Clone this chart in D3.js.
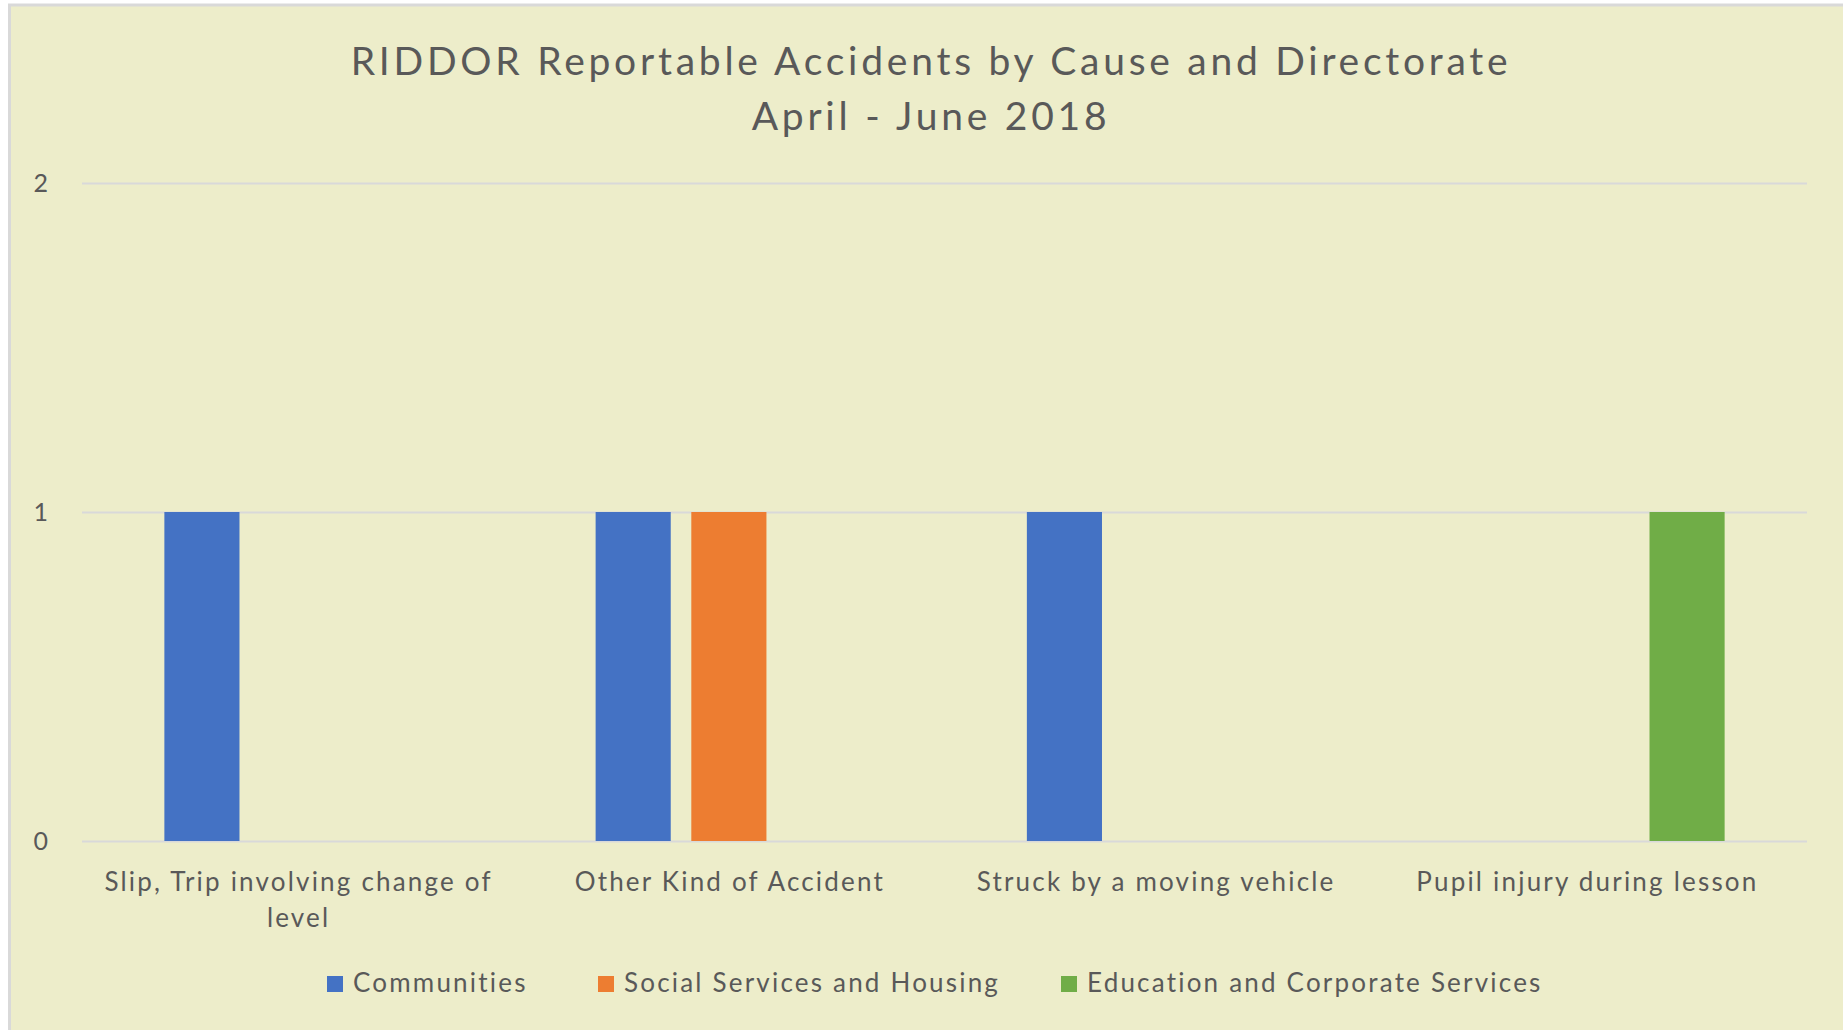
<!DOCTYPE html>
<html>
<head>
<meta charset="utf-8">
<script src="https://cdn.jsdelivr.net/npm/d3@7"></script>
<style>
  html, body { margin: 0; padding: 0; background: #ffffff; }
  svg { display: block; }
  text { font-family: Lato, "Open Sans", sans-serif; fill: #595959; }
</style>
</head>
<body>
<svg id="chart" width="1843" height="1030"></svg>
<script>
const titleLines = ["RIDDOR Reportable Accidents by Cause and Directorate", "April - June 2018"];
const categories = [
  ["Slip, Trip involving change of", "level"],
  ["Other Kind of Accident"],
  ["Struck by a moving vehicle"],
  ["Pupil injury during lesson"]
];
const seriesNames = ["Communities", "Social Services and Housing", "Education and Corporate Services"];
const communities = [1, 1, 1, 0];
const socialServices = [0, 1, 0, 0];
const education = [0, 0, 0, 1];
const yTicks = [0, 1, 2];
const colors = ["#4472C4", "#ED7D31", "#70AD47"];

const seriesValues = [communities, socialServices, education];
const catKeys = categories.map(c => c.join(" "));

const svg = d3.select("#chart");
const W = 1843, H = 1030;

// chart area with border
svg.append("rect").attr("x", 9.5).attr("y", 5).attr("width", W).attr("height", H)
  .attr("fill", "#EDEDCA").attr("stroke", "#D9D9D9").attr("stroke-width", 3);

const plot = { left: 82, right: 1807, top: 183, bottom: 841 };

const x0 = d3.scaleBand().domain(catKeys).range([plot.left, plot.right]).paddingInner(0).paddingOuter(0);
const groupW = x0.bandwidth();
const outer = groupW * 0.191;
const x1 = d3.scaleBand().domain(seriesNames).range([outer, groupW - outer]).paddingInner(0.215).paddingOuter(0);
const y = d3.scaleLinear().domain([0, 2]).range([plot.bottom, plot.top]);

// gridlines
const yAxis = d3.axisLeft(y).tickValues(yTicks).tickFormat(d3.format("d"))
  .tickSize(-(plot.right - plot.left)).tickPadding(34);
const ga = svg.append("g").attr("transform", `translate(${plot.left},0)`).call(yAxis);
ga.select(".domain").remove();
ga.selectAll(".tick line").attr("stroke", "#D9D9D9").attr("stroke-width", 2);
ga.selectAll(".tick text").attr("font-size", 25).attr("fill", "#595959")
  .style("font-family", "Lato, 'Open Sans', sans-serif").attr("dy", "0.35em");

// bars
const flat = [];
catKeys.forEach((c, i) => {
  seriesNames.forEach((s, j) => flat.push({ cat: c, series: s, value: seriesValues[j][i], color: colors[j] }));
});
svg.append("g").selectAll("rect").data(flat).join("rect")
  .attr("x", d => x0(d.cat) + x1(d.series))
  .attr("y", d => y(d.value))
  .attr("width", x1.bandwidth())
  .attr("height", d => y(0) - y(d.value))
  .attr("fill", d => d.color);

// x-axis category labels
const xl = svg.append("g");
categories.forEach((lines, i) => {
  const cx = x0(catKeys[i]) + groupW / 2 + 1 - (i >= 2 ? 5 : 0);
  const t = xl.append("text").attr("x", cx).attr("y", 891)
    .attr("text-anchor", "middle").attr("font-size", 26).attr("letter-spacing", 2.2);
  lines.forEach((ln, k) => t.append("tspan").attr("x", cx).attr("dy", k === 0 ? 0 : 36).text(ln));
});

// title
const tt = svg.append("text").attr("x", 931).attr("y", 75).attr("text-anchor", "middle")
  .attr("font-size", 39).attr("letter-spacing", 3.75);
titleLines.forEach((ln, k) => tt.append("tspan").attr("x", 931).attr("dy", k === 0 ? 0 : 55).text(ln));

// legend
const legendX = [327, 598, 1061];
const lg = svg.append("g");
seriesNames.forEach((s, i) => {
  lg.append("rect").attr("x", legendX[i]).attr("y", 976).attr("width", 16).attr("height", 16).attr("fill", colors[i]);
  lg.append("text").attr("x", legendX[i] + 26).attr("y", 992).attr("font-size", 26).attr("letter-spacing", 2.2).text(s);
});
</script>
</body>
</html>
